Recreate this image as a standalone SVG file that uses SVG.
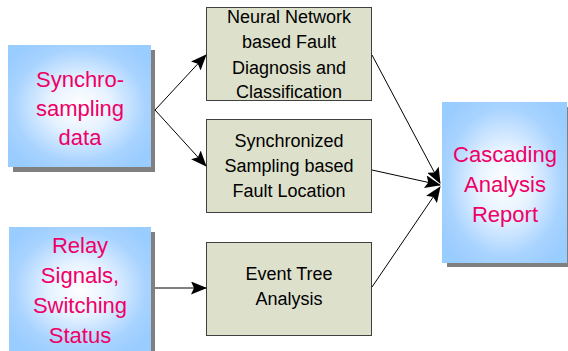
<svg xmlns="http://www.w3.org/2000/svg" width="568" height="351" viewBox="0 0 568 351">
<defs>
<radialGradient id="bg" cx="0.5" cy="0.5" r="0.62">
<stop offset="0" stop-color="#FFFFFF"/>
<stop offset="0.35" stop-color="#E6F2FF"/>
<stop offset="0.75" stop-color="#A8D3FF"/>
<stop offset="1" stop-color="#99CCFF"/>
</radialGradient>
<marker id="ah" markerWidth="16" markerHeight="13" viewBox="0 0 16 13" refX="15" refY="6.5" orient="auto" markerUnits="userSpaceOnUse">
<path d="M0,0 L16,6.5 L0,13 L3,6.5 Z" fill="#000"/>
</marker>
<style>
.shadow{fill:#808080}
.blue{fill:url(#bg)}
.green{fill:#DDE0CB;stroke:#404040;stroke-width:1}
.pt{font-family:"Liberation Sans",Arial,sans-serif;font-size:22px;fill:#EE0066;text-anchor:middle}
.bt{font-family:"Liberation Sans",Arial,sans-serif;font-size:18px;fill:#000;text-anchor:middle}
.ln{stroke:#000;stroke-width:1;fill:none;marker-end:url(#ah)}
</style>
</defs>
<rect width="568" height="351" fill="#FFFFFF"/>
<g id="synchro">
<rect class="shadow" x="13" y="50" width="142" height="122"/>
<rect class="blue" x="8" y="45" width="143" height="122"/>
<text class="pt" x="80" y="87">Synchro-</text>
<text class="pt" x="80" y="116">sampling</text>
<text class="pt" x="80" y="145">data</text>
</g>
<g id="relay">
<rect class="shadow" x="13" y="232" width="142" height="122"/>
<rect class="blue" x="9" y="227" width="142" height="124"/>
<text class="pt" x="80" y="253">Relay</text>
<text class="pt" x="80" y="283">Signals,</text>
<text class="pt" x="80" y="313">Switching</text>
<text class="pt" x="80" y="343">Status</text>
</g>
<g id="neural">
<rect class="green" x="206.5" y="7.5" width="165" height="93"/>
<text class="bt" x="289" y="23">Neural Network</text>
<text class="bt" x="289" y="48">based Fault</text>
<text class="bt" x="289" y="74">Diagnosis and</text>
<text class="bt" x="289" y="98">Classification</text>
</g>
<g id="sync">
<rect class="green" x="206.5" y="119.5" width="165" height="93"/>
<text class="bt" x="289" y="147">Synchronized</text>
<text class="bt" x="289" y="172">Sampling based</text>
<text class="bt" x="289" y="197">Fault Location</text>
</g>
<g id="event">
<rect class="green" x="206.5" y="242.5" width="165" height="93"/>
<text class="bt" x="289" y="280">Event Tree</text>
<text class="bt" x="289" y="305">Analysis</text>
</g>
<g id="cascading">
<rect class="shadow" x="447" y="107" width="125" height="160"/>
<rect class="blue" x="442" y="102" width="125" height="161"/>
<text class="pt" x="505" y="162">Cascading</text>
<text class="pt" x="505" y="192">Analysis</text>
<text class="pt" x="505" y="222">Report</text>
</g>
<g id="connectors">
<line class="ln" x1="155" y1="110" x2="206" y2="55"/>
<line class="ln" x1="155" y1="110" x2="206" y2="166"/>
<line class="ln" x1="155" y1="288" x2="206" y2="288"/>
<line class="ln" x1="372" y1="55" x2="440" y2="183"/>
<line class="ln" x1="372" y1="170" x2="440" y2="185"/>
<line class="ln" x1="372" y1="287" x2="440" y2="187"/>
</g>
</svg>
